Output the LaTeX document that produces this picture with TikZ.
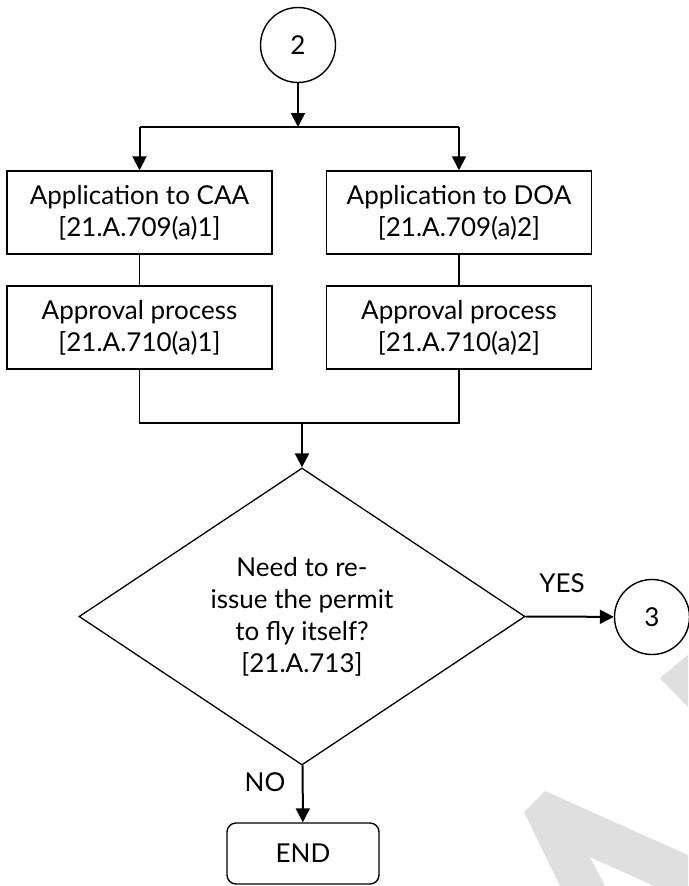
\documentclass[tikz,border=0pt]{standalone}
\usepackage{fontspec}
\setmainfont{Lato}
\usetikzlibrary{arrows.meta,shapes.geometric}

\begin{document}
\begin{tikzpicture}[x=1pt,y=-1pt,
    font=\fontsize{26}{32}\selectfont,
    procbox/.style={draw, line width=1.5pt, minimum width=265pt, minimum height=83pt, align=center, inner sep=0pt},
    conn/.style={circle, draw, line width=1.4pt, minimum size=75pt, inner sep=0pt},
    decision/.style={diamond, draw, line width=1.3pt, aspect=1.5, minimum width=446pt, minimum height=297pt, align=center, inner sep=0pt},
    endbox/.style={draw, line width=1.4pt, rounded corners=9pt, minimum width=152pt, minimum height=61pt, inner sep=0pt},
    flow/.style={line width=2pt, -{Triangle[length=14pt,width=14pt]}},
    link/.style={line width=1.4pt},
    wmark/.style={fill=gray!25, draw=none}]
        \useasboundingbox (0,0) rectangle (688,886);

        % watermark remains
        \fill[wmark] (660,678) -- (688,655) -- (688,707) -- cycle;
        \fill[wmark] (524,812) -- (545,791) -- (688,855) -- (688,886) -- (654,886) -- (590,857) -- (605,886) -- (560,886) -- cycle;

        \node[conn] (c2) at (298,45) {2};
        \coordinate (split) at (298,127);
        \coordinate (topL) at (139.5,127);
        \coordinate (topR) at (459,127);

        \node[procbox] (caa) at (139.5,212.5) {Application to CAA\\{}[21.A.709(a)1]};
        \node[procbox] (doa) at (459,212.5) {Application to DOA\\{}[21.A.709(a)2]};
        \node[procbox] (apL) at (139.5,327.5) {Approval process\\{}[21.A.710(a)1]};
        \node[procbox] (apR) at (459,327.5) {Approval process\\{}[21.A.710(a)2]};

        \coordinate (botL) at (139.5,423);
        \coordinate (botR) at (459,423);
        \coordinate (join) at (302,423);

        \node[decision] (need) at (302,616.5) {Need to re-\\issue the permit\\to fly itself?\\{}[21.A.713]};
        \node[conn] (c3) at (652,617) {3};
        \node[endbox] (end) at (303,853.5) {END};
        \node (yes) at (562,583) {YES};
        \node (no) at (265,782) {NO};

        \draw[flow] (c2) -- (split);
        \draw[link] (topL) -- (topR);
        \draw[flow] (topL) -- (caa);
        \draw[flow] (topR) -- (doa);
        \draw[link] (caa) -- (apL);
        \draw[link] (doa) -- (apR);
        \draw[link] (apL) -- (botL) -- (botR) -- (apR);
        \draw[flow] (join) -- (need);
        \draw[flow] (need.east) -- (c3);
        \draw[flow] (need) -- (end);
    \end{tikzpicture}
\end{document}
